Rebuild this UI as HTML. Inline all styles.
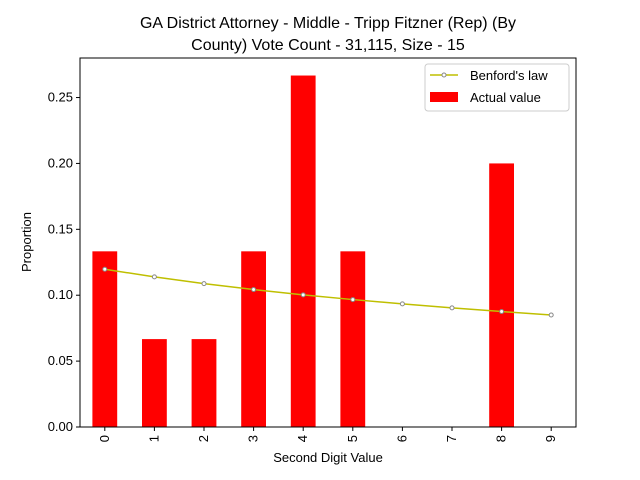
<!DOCTYPE html>
<html><head><meta charset="utf-8"><style>
body{margin:0;background:#fff;}
svg{display:block;font-family:"Liberation Sans","DejaVu Sans",sans-serif;}
</style></head><body>
<svg id="chart" width="640" height="480" viewBox="0 0 640 480">
<text x="328" y="28" text-anchor="middle" font-size="16">GA District Attorney - Middle - Tripp Fitzner (Rep) (By</text>
<text x="328" y="50" text-anchor="middle" font-size="16">County) Vote Count - 31,115, Size - 15</text>
<g id="bars"></g>
<g id="line"></g>
<g id="axes"></g>
<text x="328" y="462" text-anchor="middle" font-size="13">Second Digit Value</text>
<text transform="translate(31,242) rotate(-90)" text-anchor="middle" font-size="13">Proportion</text>
<g>
<rect x="425" y="64" width="144" height="47" rx="3" fill="#fff" stroke="#ccc"/>
<g>
<line x1="430" y1="75" x2="458" y2="75" stroke="#bfbf00" stroke-width="1.5"/>
<circle cx="444" cy="75" r="2" fill="#fff" stroke="#888" stroke-width="1"/>
<text x="470" y="80" font-size="13">Benford's law</text></g>
<g>
<rect x="430" y="92" width="28" height="10" fill="#ff0000"/>
<text x="470" y="102" font-size="13">Actual value</text></g>
</g>
</svg>
<script>
const categories=["0","1","2","3","4","5","6","7","8","9"];
const actualValues=[0.1333,0.0667,0.0667,0.1333,0.2667,0.1333,0,0,0.2,0];
const benfordValues=[0.1197,0.1139,0.1088,0.1043,0.1003,0.0967,0.0934,0.0904,0.0876,0.0850];
const yTicks=[0,0.05,0.10,0.15,0.20,0.25];
const yTickLabels=["0.00","0.05","0.10","0.15","0.20","0.25"];
const L=80,R=576,T=58,B=427,ymax=0.28;
const NS="http://www.w3.org/2000/svg";
const xs=i=>L+(i+0.5)*(R-L)/categories.length;
const ys=v=>B-v/ymax*(B-T);
function mk(tag,attrs,parent){const e=document.createElementNS(NS,tag);for(const k in attrs)e.setAttribute(k,attrs[k]);parent.appendChild(e);return e;}
const bars=document.getElementById('bars'),line=document.getElementById('line'),axes=document.getElementById('axes');
const bw=(R-L)/categories.length*0.5;
actualValues.forEach((v,i)=>{const r=mk('rect',{x:xs(i)-bw/2,y:ys(v),width:bw,height:B-ys(v),fill:'#ff0000'},bars);

});
const p=mk('polyline',{points:benfordValues.map((v,i)=>xs(i)+','+ys(v)).join(' '),fill:'none',stroke:'#bfbf00','stroke-width':1.5},line);


benfordValues.forEach((v,i)=>{const c=mk('circle',{cx:xs(i),cy:ys(v),r:2,fill:'#fff',stroke:'#888','stroke-width':1},line);

});
const f=mk('rect',{x:L,y:T,width:R-L,height:B-T,fill:'none',stroke:'#000','stroke-width':1},axes);


yTicks.forEach((v,i)=>{mk('line',{x1:L-4,x2:L,y1:ys(v),y2:ys(v),stroke:'#000'},axes);
const t=mk('text',{x:L-7,y:ys(v)+4,'text-anchor':'end','font-size':13},axes);t.textContent=yTickLabels[i];

});
categories.forEach((c,i)=>{mk('line',{x1:xs(i),x2:xs(i),y1:B,y2:B+4,stroke:'#000'},axes);
const t=mk('text',{transform:'translate('+(xs(i)+4)+','+(B+8)+') rotate(-90)','text-anchor':'end','font-size':13},axes);t.textContent=c;

});
</script>
</body></html>
